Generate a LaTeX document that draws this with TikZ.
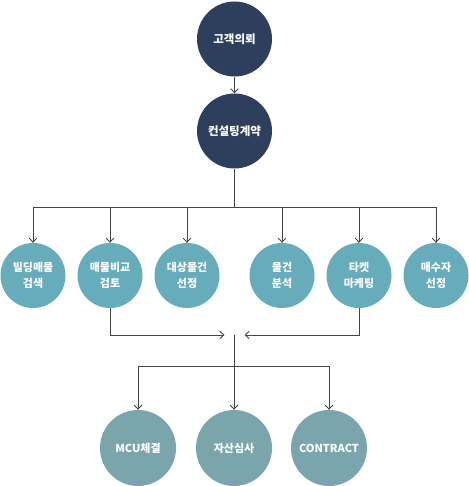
\documentclass[tikz,border=0pt]{standalone}
\usepackage{fontspec}
\newfontfamily\kr{Noto Sans CJK KR}
\usetikzlibrary{arrows.meta}
\definecolor{navy}{HTML}{2D3F5D}
\definecolor{teal}{HTML}{66ACBA}
\definecolor{grayteal}{HTML}{7BA5AD}
\definecolor{wire}{HTML}{444444}
\tikzset{
  topc/.style={circle,fill=navy,minimum size=75pt,inner sep=0pt,text=white,font=\kr\bfseries\fontsize{11.5}{15}\selectfont,align=center},
  midc/.style={circle,fill=teal,minimum size=65pt,inner sep=0pt,text=white,font=\kr\bfseries\fontsize{11}{16}\selectfont,align=center},
  botc/.style={circle,fill=grayteal,minimum size=76pt,inner sep=0pt,text=white,font=\kr\bfseries\fontsize{11}{15}\selectfont,align=center},
  wirel/.style={draw=wire,line width=1pt},
  arr/.style={wirel,-{Straight Barb[length=4pt,width=7.5pt,line width=0.9pt]}}
}
\begin{document}
\begin{tikzpicture}[x=1pt,y=-1pt]
\useasboundingbox (0,0) rectangle (468,486);
\node[topc] (a) at (234.5,39) {고객의뢰};
\node[topc] (b) at (234.5,131) {컨설팅계약};
\node[midc] (m1) at (33,275.5) {빌딩매물\\검색};
\node[midc] (m2) at (110,275.5) {매물비교\\검토};
\node[midc] (m3) at (187,275.5) {대상물건\\선정};
\node[midc] (m4) at (282,275.5) {물건\\분석};
\node[midc] (m5) at (359,275.5) {타켓\\마케팅};
\node[midc] (m6) at (436,275.5) {매수자\\선정};
\node[botc] (c1) at (138,448) {MCU체결};
\node[botc] (c2) at (234,448) {자산심사};
\node[botc] (c3) at (329,448) {CONTRACT};
\coordinate (j1) at (234.5,207);
\coordinate (l) at (234.5,335);
\coordinate (lt) at (224.5,335);
\coordinate (rt) at (244.5,335);
\coordinate (j2) at (234.5,366);
\draw[arr] (a) -- (b);
\draw[wirel] (b) -- (j1);
\foreach \n in {m1,m2,m3,m4,m5,m6}{
  \draw[arr] (j1) -| (\n.north);
}
\draw[arr] (m2.south) |- (lt);
\draw[arr] (m5.south) |- (rt);
\draw[wirel] (l) -- (j2);
\foreach \n in {c1,c2,c3}{
  \draw[arr] (j2) -| (\n.north);
}
\end{tikzpicture}
\end{document}
